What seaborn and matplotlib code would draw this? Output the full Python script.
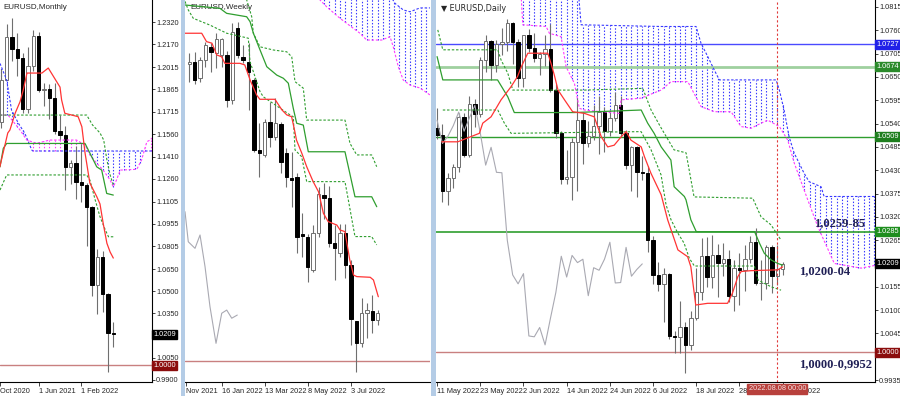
import numpy as np
import pandas as pd
import matplotlib
matplotlib.use("Agg")
import matplotlib.pyplot as plt
import seaborn as sns
from matplotlib.patches import Rectangle

# ---------------- monthly EURUSD, Oct 2020 .. Aug 2022 ----------------
m_open = [1.1720, 1.1646, 1.1926, 1.2216, 1.2136, 1.2074, 1.1729, 1.2020, 1.2227, 1.1858, 1.1869, 1.1809,
          1.1580, 1.1558, 1.1338, 1.1370, 1.1235, 1.1218, 1.1067, 1.0545, 1.0733, 1.0483, 1.0220]
m_high = [1.1881, 1.2003, 1.2310, 1.2349, 1.2243, 1.2113, 1.2150, 1.2266, 1.2254, 1.1909, 1.1900, 1.1909,
          1.1692, 1.1616, 1.1386, 1.1482, 1.1495, 1.1233, 1.1076, 1.0787, 1.0774, 1.0486, 1.0294]
m_low = [1.1603, 1.1603, 1.1925, 1.2054, 1.1952, 1.1704, 1.1704, 1.1986, 1.1847, 1.1752, 1.1664, 1.1563,
         1.1524, 1.1186, 1.1222, 1.1121, 1.1106, 1.0806, 1.0470, 1.0349, 1.0359, 0.9952, 1.0123]
m_close = [1.1646, 1.1926, 1.2216, 1.2136, 1.2074, 1.1729, 1.2020, 1.2227, 1.1858, 1.1869, 1.1809, 1.1580,
           1.1558, 1.1338, 1.1370, 1.1235, 1.1218, 1.1067, 1.0545, 1.0733, 1.0483, 1.0220, 1.0209]

m_tenkan_x = [0.7, 2.2, 2.6, 3.6, 4.5, 5.1, 5.8, 8.6, 9.8, 12.0, 12.3, 12.9, 15.4, 16.1, 16.7, 17.6,
              18.9, 19.5, 20.1, 20.8, 21.4, 22.0]
m_tenkan = [1.1340, 1.1570, 1.1590, 1.1705, 1.1781, 1.1860, 1.1975, 1.1975, 1.2009, 1.1880, 1.1793, 1.1703,
            1.1680, 1.1612, 1.1434, 1.1231, 1.1139, 1.1090, 1.0959, 1.0824, 1.0765, 1.0724]
m_kijun_x = [0.74, 1.36, 1.99, 16.69, 17.95, 18.89, 19.82, 20.76, 22.0]
m_kijun = [1.1341, 1.1466, 1.1499, 1.1499, 1.1409, 1.1341, 1.1319, 1.1161, 1.1150]
m_dot_up_x = [0.74, 17.0, 18.1, 19.5, 20.2, 20.8, 21.4, 22.0]
m_dot_up = [1.1691, 1.1691, 1.1624, 1.1570, 1.1522, 1.1387, 1.1286, 1.1218]
m_dot_lo_x = [0.74, 1.99, 17.0, 17.6, 18.6, 19.5, 20.5, 21.1, 22.0]
m_dot_lo = [1.1184, 1.1286, 1.1286, 1.1252, 1.1117, 1.1004, 1.0914, 1.0868, 1.0868]
m_span_a_x = [0.74, 2.0, 2.9, 4.2, 5.4, 6.7, 6.9, 29.3]
m_span_a = [1.2040, 1.1928, 1.1725, 1.1635, 1.1567, 1.1455, 1.1448, 1.1448]
m_span_b_x = [0.74, 2.24, 4.5, 5.76, 7.6, 10.1, 15.1, 16.7, 17.6, 18.9, 20.1, 21.4, 22.0, 22.6, 23.3,
              26.4, 27.3, 28.3, 28.9, 29.3]
m_span_b = [1.1691, 1.1691, 1.1590, 1.1522, 1.1500, 1.1522, 1.1522, 1.1488, 1.1421, 1.1365, 1.1319, 1.1252,
            1.1206, 1.1252, 1.1319, 1.1324, 1.1387, 1.1511, 1.1522, 1.1536]
m_ticks = [0.8, 8, 16]
m_tick_labels = ["Oct 2020", "1 Jun 2021", "1 Feb 2022"]
m_price_ticks = [1.2320, 1.2170, 1.2015, 1.1865, 1.1715, 1.1560, 1.1410, 1.1260, 1.1105, 1.0955,
                 1.0805, 1.0650, 1.0500, 1.0350, 1.0050, 0.9900]

# ---------------- weekly EURUSD, 5 Dec 2021 .. 7 Aug 2022 ----------------
w_open = [1.1313, 1.1322, 1.1251, 1.1331, 1.1388, 1.1362, 1.1353, 1.1353, 1.1154, 1.1472, 1.1344, 1.1322,
          1.1242, 1.0933, 1.0911, 1.1057, 1.0990, 1.1048, 1.0920, 1.0809, 1.0813, 1.0560, 1.0548, 1.0402,
          1.0566, 1.0735, 1.0720, 1.0522, 1.0477, 1.0566, 1.0424, 1.0177, 1.0080, 1.0212, 1.0221, 1.0181]
w_high = [1.1362, 1.1366, 1.1345, 1.1410, 1.1406, 1.1450, 1.1430, 1.1369, 1.1494, 1.1500, 1.1397, 1.1406,
          1.1251, 1.1052, 1.1070, 1.1145, 1.1163, 1.1057, 1.0942, 1.0924, 1.0830, 1.0654, 1.0560, 1.0601,
          1.0770, 1.0787, 1.0774, 1.0601, 1.0605, 1.0606, 1.0446, 1.0177, 1.0279, 1.0256, 1.0292, 1.0225]
w_low = [1.1233, 1.1225, 1.1235, 1.1300, 1.1278, 1.1295, 1.1300, 1.1123, 1.1136, 1.1340, 1.1317, 1.1110,
         1.0924, 1.0813, 1.0900, 1.0946, 1.0977, 1.0831, 1.0769, 1.0681, 1.0477, 1.0460, 1.0349, 1.0393,
         1.0550, 1.0627, 1.0505, 1.0359, 1.0460, 1.0366, 1.0071, 0.9952, 1.0062, 1.0102, 1.0124, 1.0159]
w_close = [1.1322, 1.1242, 1.1331, 1.1397, 1.1366, 1.1424, 1.1424, 1.1154, 1.1454, 1.1353, 1.1331, 1.1278,
           1.0933, 1.0920, 1.1057, 1.0990, 1.1052, 1.0880, 1.0813, 1.0800, 1.0548, 1.0552, 1.0416, 1.0566,
           1.0738, 1.0720, 1.0522, 1.0500, 1.0566, 1.0424, 1.0186, 1.0080, 1.0212, 1.0225, 1.0181, 1.0212]

w_tenkan_x = [-0.8, 2.3, 3.2, 4.2, 5.1, 6.0, 6.6, 9.4, 10.3, 11.3, 12.5, 13.1, 15.9, 17.2, 18.1, 19.0, 19.6,
              19.9, 20.9, 21.8, 23.0, 24.0, 24.9, 25.8, 27.4, 28.0, 28.9, 29.8, 30.5, 31.1, 33.6, 34.2, 35.1]
w_tenkan = [1.1449, 1.1449, 1.1412, 1.1405, 1.1353, 1.1345, 1.1316, 1.1316, 1.1309, 1.1242, 1.1176, 1.1157,
            1.1157, 1.1110, 1.1088, 1.1080, 1.1014, 1.0977, 1.0918, 1.0859, 1.0793, 1.0748, 1.0653, 1.0616,
            1.0601, 1.0579, 1.0572, 1.0447, 1.0380, 1.0373, 1.0370, 1.0358, 1.0284]
w_kijun_x = [-0.8, 5.7, 6.94, 10.65, 11.29, 11.9, 13.14, 14.39, 16.24, 17.46, 18.39, 19.31, 19.94, 21.17,
             22.1, 28.91, 29.53, 30.77, 33.88, 34.81]
w_kijun = [1.1574, 1.1559, 1.1537, 1.1522, 1.1500, 1.1449, 1.1375, 1.1301, 1.1264, 1.1250, 1.1228, 1.1117,
           1.1051, 1.1043, 1.0925, 1.0925, 1.0859, 1.0726, 1.0726, 1.0682]
w_dot_a_x = [-0.8, -0.19, 0.74, 3.84, 6.95, 9.73, 10.96, 11.27, 12.2, 13.13, 13.74, 18.7, 19.31, 19.63,
             20.87, 21.8, 28.91, 29.53, 30.77, 33.87, 34.8]
w_dot_a = [1.1590, 1.1552, 1.1515, 1.1485, 1.1449, 1.1434, 1.1427, 1.1323, 1.1257, 1.1191, 1.1168, 1.1088,
           1.1080, 1.0933, 1.0903, 1.0793, 1.0793, 1.0712, 1.0550, 1.0550, 1.0513]
w_dot_b_x = [10.3, 10.66, 11.59, 11.89, 13.13, 15.6, 18.09, 19.02, 19.63, 21.17, 21.8, 28.91, 29.84, 31.09,
             33.87, 34.8]
w_dot_b = [1.1650, 1.1596, 1.1522, 1.1449, 1.1389, 1.1375, 1.1367, 1.1345, 1.1235, 1.1206, 1.1065, 1.1065,
           1.0962, 1.0911, 1.0911, 1.0859]
w_chikou_x = [-0.8, -0.19, 1.06, 1.99, 2.92, 3.84, 4.96, 6.02, 6.95, 7.88, 8.91]
w_chikou = [1.0660, 1.0527, 1.0498, 1.0557, 1.0417, 1.0240, 1.0078, 1.0211, 1.0225, 1.0189, 1.0203]
w_span_a_x = [24.0, 37.27, 38.2, 39.74, 40.98, 42.84, 44.7]
w_span_a = [1.1700, 1.1618, 1.1581, 1.1552, 1.1544, 1.1561, 1.1561]
w_span_b_x = [24.0, 24.27, 25.51, 27.99, 30.45, 31.7, 32.94, 35.73, 37.27, 37.88, 38.81, 39.74, 40.98,
              42.84, 44.7]
w_span_b = [1.1640, 1.1596, 1.1566, 1.1515, 1.1471, 1.1449, 1.1419, 1.1419, 1.1434, 1.1389, 1.1301, 1.1242,
            1.1220, 1.1207, 1.1176]
w_ticks = [-0.7, 6, 14, 22, 30]
w_tick_labels = ["Nov 2021", "16 Jan 2022", "13 Mar 2022", "8 May 2022", "3 Jul 2022"]

# ---------------- daily EURUSD, 11 May 2022 .. 9 Aug 2022 ----------------
d_open = [1.0530, 1.0513, 1.0380, 1.0411, 1.0437, 1.0555, 1.0465, 1.0586, 1.0563, 1.0691, 1.0735, 1.0678,
          1.0727, 1.0733, 1.0777, 1.0733, 1.0648, 1.0749, 1.0719, 1.0695, 1.0704, 1.0717, 1.0619, 1.0518,
          1.0409, 1.0415, 1.0497, 1.0548, 1.0493, 1.0510, 1.0535, 1.0567, 1.0522, 1.0554, 1.0583, 1.0518,
          1.0442, 1.0484, 1.0425, 1.0424, 1.0265, 1.0183, 1.0162, 1.0186, 1.0039, 1.0037, 1.0059, 1.0018,
          1.0081, 1.0142, 1.0227, 1.0178, 1.0229, 1.0212, 1.0220, 1.0134, 1.0200, 1.0194, 1.0220, 1.0260,
          1.0164, 1.0165, 1.0248, 1.0180, 1.0196]
d_high = [1.0577, 1.0540, 1.0424, 1.0444, 1.0564, 1.0566, 1.0606, 1.0598, 1.0698, 1.0748, 1.0737, 1.0738,
          1.0765, 1.0787, 1.0780, 1.0740, 1.0750, 1.0764, 1.0753, 1.0710, 1.0749, 1.0774, 1.0633, 1.0522,
          1.0478, 1.0506, 1.0601, 1.0567, 1.0545, 1.0583, 1.0606, 1.0579, 1.0572, 1.0615, 1.0606, 1.0526,
          1.0488, 1.0486, 1.0463, 1.0440, 1.0275, 1.0213, 1.0200, 1.0188, 1.0050, 1.0122, 1.0071, 1.0097,
          1.0200, 1.0269, 1.0273, 1.0278, 1.0257, 1.0258, 1.0242, 1.0219, 1.0234, 1.0254, 1.0274, 1.0294,
          1.0218, 1.0254, 1.0254, 1.0253, 1.0214]
d_low = [1.0504, 1.0355, 1.0349, 1.0389, 1.0425, 1.0460, 1.0462, 1.0532, 1.0555, 1.0662, 1.0642, 1.0662,
         1.0701, 1.0712, 1.0680, 1.0627, 1.0627, 1.0710, 1.0685, 1.0654, 1.0676, 1.0614, 1.0506, 1.0397,
         1.0397, 1.0359, 1.0381, 1.0444, 1.0485, 1.0502, 1.0469, 1.0474, 1.0510, 1.0547, 1.0508, 1.0432,
         1.0382, 1.0366, 1.0406, 1.0236, 1.0162, 1.0144, 1.0072, 1.0033, 0.9998, 0.9998, 0.9952, 1.0006,
         1.0077, 1.0123, 1.0154, 1.0152, 1.0130, 1.0181, 1.0120, 1.0097, 1.0112, 1.0145, 1.0210, 1.0160,
         1.0123, 1.0150, 1.0140, 1.0159, 1.0182]
d_close = [1.0513, 1.0380, 1.0411, 1.0437, 1.0555, 1.0465, 1.0586, 1.0563, 1.0691, 1.0735, 1.0678, 1.0727,
           1.0733, 1.0777, 1.0733, 1.0648, 1.0749, 1.0719, 1.0695, 1.0704, 1.0717, 1.0619, 1.0518, 1.0409,
           1.0415, 1.0497, 1.0548, 1.0493, 1.0510, 1.0535, 1.0567, 1.0522, 1.0554, 1.0583, 1.0518, 1.0442,
           1.0484, 1.0425, 1.0424, 1.0265, 1.0183, 1.0162, 1.0186, 1.0039, 1.0037, 1.0059, 1.0018, 1.0081,
           1.0142, 1.0227, 1.0178, 1.0229, 1.0212, 1.0220, 1.0134, 1.0200, 1.0194, 1.0220, 1.0260, 1.0164,
           1.0165, 1.0248, 1.0180, 1.0196, 1.0209]

d_tenkan_x = [0.87, 3.83, 7.83, 8.46, 10.0, 11.85, 13.7, 14.9, 15.6, 16.8, 20.5, 21.1, 21.7, 22.4, 23.6,
              25.1, 27.3, 29.1, 30.4, 31.6, 32.8, 34.1, 35.0, 35.9, 37.8, 38.4, 39.6, 41.5, 42.7, 44.6,
              46.4, 47.0, 47.9, 50.1, 53.8, 54.7, 55.7, 56.3, 58.1, 63.1, 64.0]
d_tenkan = [1.0497, 1.0497, 1.0517, 1.0541, 1.0556, 1.0596, 1.0627, 1.0651, 1.0674, 1.0706, 1.0706, 1.0682,
            1.0655, 1.0619, 1.0596, 1.0568, 1.0564, 1.0556, 1.0509, 1.0485, 1.0489, 1.0509, 1.0521, 1.0501,
            1.0485, 1.0462, 1.0423, 1.0372, 1.0313, 1.0242, 1.0226, 1.0202, 1.0112, 1.0116, 1.0116, 1.0140,
            1.0179, 1.0191, 1.0193, 1.0195, 1.0202]
d_kijun_x = [0, 1.06, 11.2, 13.1, 14.3, 25.4, 37.8, 39.0, 40.2, 41.5, 43.3, 43.9, 45.8, 46.1, 47.0, 48.0,
             58.8, 59.7, 60.6, 61.9, 63.1, 64.0]
d_kijun = [1.0698, 1.0643, 1.0643, 1.0603, 1.0566, 1.0566, 1.0572, 1.0541, 1.0517, 1.0485, 1.0454, 1.0391,
           1.0368, 1.0360, 1.0313, 1.0285, 1.0285, 1.0258, 1.0234, 1.0218, 1.0210, 1.0206]
d_dot_a_x = [0.13, 1.06, 11.24, 11.85, 13.09, 14.02, 27.28, 38.09, 39.63, 41.48, 43.89, 46.11, 47.59, 58.46,
             60.0, 61.85, 63.7]
d_dot_a = [1.0761, 1.0714, 1.0714, 1.0690, 1.0659, 1.0619, 1.0619, 1.0623, 1.0572, 1.0530, 1.0478, 1.0471,
           1.0367, 1.0364, 1.0320, 1.0301, 1.0265]
d_dot_b_x = [1.06, 11.24, 12.46, 13.7, 37.78, 39.63, 41.48, 42.41, 43.33, 44.57, 45.74, 46.72, 47.65,
             58.76, 59.44, 61.85, 63.7]
d_dot_b = [1.0572, 1.0572, 1.0541, 1.0517, 1.0521, 1.0478, 1.0419, 1.0348, 1.0313, 1.0282, 1.0258, 1.0222,
           1.0204, 1.0204, 1.0171, 1.0155, 1.0147]
d_chikou = [1.0548, 1.0493, 1.0510, 1.0535, 1.0567, 1.0522, 1.0554, 1.0583, 1.0518, 1.0442, 1.0484, 1.0425,
            1.0424, 1.0265, 1.0183, 1.0162, 1.0186, 1.0039, 1.0037, 1.0059, 1.0018, 1.0081, 1.0142, 1.0227,
            1.0178, 1.0229, 1.0212, 1.0220, 1.0134, 1.0200, 1.0194, 1.0220, 1.0260, 1.0164, 1.0165, 1.0248,
            1.0180, 1.0196, 1.0209]
d_span_a_x = [15.56, 26.11, 26.67, 41.48, 47.96, 48.89, 50.13, 51.35, 52.28, 62.78, 63.39, 64.26, 65.19,
              66.11, 67.96, 68.89, 71.11, 71.67, 81.3]
d_span_a = [1.0860, 1.0860, 1.0773, 1.0769, 1.0769, 1.0729, 1.0698, 1.0666, 1.0643, 1.0643, 1.0619, 1.0572,
            1.0509, 1.0471, 1.0423, 1.0403, 1.0391, 1.0368, 1.0368]
d_span_b_x = [15.56, 15.87, 20.19, 20.8, 22.96, 23.89, 25.43, 26.35, 27.28, 33.7, 34.07, 37.78, 41.48,
              43.33, 46.43, 48.89, 51.35, 54.44, 56.3, 58.15, 60.0, 61.24, 63.39, 64.94, 66.17, 68.65, 70.5,
              73.57, 78.52, 81.3]
d_span_b = [1.0843, 1.0773, 1.0769, 1.0753, 1.0745, 1.0674, 1.0635, 1.0576, 1.0572, 1.0564, 1.0596, 1.0600,
            1.0619, 1.0639, 1.0639, 1.0580, 1.0568, 1.0568, 1.0533, 1.0529, 1.0541, 1.0548, 1.0533, 1.0501,
            1.0446, 1.0360, 1.0297, 1.0210, 1.0199, 1.0206]
d_levels = [1.0727, 1.0674, 1.0509, 1.0285]
d_level_colors = ["#4a4aff", "#9fd09f", "#2f9e2f", "#2f9e2f"]
d_level_tags = ["#2020e8", "#2a8a2a", "#1e7e1e", "#1e8e1e"]
d_ticks = [0, 8, 16, 24, 32, 40, 48, 56, 64]
d_tick_labels = ["11 May 2022", "23 May 2022", "2 Jun 2022", "14 Jun 2022", "24 Jun 2022",
                 "6 Jul 2022", "18 Jul 2022", "28 Jul 2022", "9 Aug 2022"]
d_price_ticks = [1.0815, 1.0760, 1.0705, 1.0650, 1.0595, 1.0540, 1.0485, 1.0430, 1.0375, 1.0320,
                 1.0265, 1.0155, 1.0100, 1.0045, 0.9935]
d_cursor = 63
zones = ["1,0259-85", "1,0200-04", "1,0000-0,9952"]
zone_prices = [1.0305, 1.0193, 0.9973]
zone_x = [69.8, 67.0, 67.0]

last_price = 1.0209

RED = "#ff3434"
GREEN = "#2f9e2f"
BLUE = "#3838ff"
PINK = "#ff3cff"
GRAY = "#a9a9b2"
WICK = "#6f6f6f"
LEVEL_1 = "#c98080"
NAVY = "#1f1f55"
DOT = (0, (2.2, 1.6))
FS = 5.3

sns.set_style("white")
plt.rcParams["font.family"] = ["Liberation Sans Narrow", "Liberation Sans", "DejaVu Sans"]
plt.rcParams["axes.linewidth"] = 0.8

fig = plt.figure(figsize=(9.0, 3.96), dpi=100)
W, H = 900.0, 396.0


def frame(x0, x1, y0=0.0, y1=382.0):
    return [x0 / W, 1 - y1 / H, (x1 - x0) / W, (y1 - y0) / H]


def candles(ax, o, h, l, c, x0=0, width=0.6):
    df = pd.DataFrame({"o": o, "h": h, "l": l, "c": c})
    df["x"] = np.arange(len(df)) + x0
    up = df[df.c >= df.o]
    dn = df[df.c < df.o]
    ax.vlines(df.x, df.l, df.h, colors=WICK, lw=0.8, zorder=4)
    ax.bar(up.x, (up.c - up.o).clip(lower=0.00004), bottom=up.o, width=width,
           color="white", edgecolor=WICK, lw=0.7, zorder=5)
    ax.bar(dn.x, dn.o - dn.c, bottom=dn.c, width=width,
           color="black", edgecolor="black", lw=0.7, zorder=5)


def line(ax, x, y, color, ls="-", lw=0.9):
    sns.lineplot(x=x, y=y, ax=ax, color=color, linestyle=ls, lw=lw,
                 estimator=None, sort=False, zorder=6)


def cloud(ax, ax_x, ay, bx, by, lo, hi):
    idx = np.arange(lo, hi + 1)
    a = np.interp(idx, ax_x, ay)
    b = np.interp(idx, bx, by)
    up = a >= b
    ax.vlines(idx[up], b[up], a[up], colors=BLUE, linestyles=(0, (1.3, 1.6)), lw=0.8, zorder=2)
    ax.vlines(idx[~up], a[~up], b[~up], colors=PINK, linestyles=(0, (1.3, 1.6)), lw=0.8, zorder=2)
    line(ax, ax_x, ay, BLUE, DOT, 0.8)
    line(ax, bx, by, PINK, DOT, 0.8)


def tag(ax, y, text, fc):
    ax.annotate(text, xy=(1, y), xycoords=("axes fraction", "data"), xytext=(0.9, 0),
                textcoords="offset points", ha="left", va="center", fontsize=FS, color="white",
                bbox=dict(boxstyle="square,pad=0.15", fc=fc, ec=fc), annotation_clip=False, zorder=10)


def style(ax, xlim, ylim, xticks, xlabels, yticks=None):
    ax.set_xlim(xlim)
    ax.set_ylim(ylim)
    ax.set_xlabel("")
    ax.set_ylabel("")
    ax.spines["left"].set_visible(False)
    ax.spines["top"].set_visible(False)
    ax.spines["bottom"].set_color("black")
    ax.set_xticks(xticks, xlabels)
    for lab in ax.get_xticklabels():
        lab.set_horizontalalignment("left")
    ax.tick_params(axis="x", bottom=True, direction="out", length=3, width=0.6, labelsize=FS, pad=1.5)
    if yticks is None:
        ax.set_yticks([])
        ax.spines["right"].set_visible(False)
    else:
        ax.spines["right"].set_color("black")
        ax.set_yticks(yticks, [f"{t:.4f}" for t in yticks])
        ax.tick_params(axis="y", left=False, labelleft=False, right=True, labelright=True,
                       direction="out", length=2, width=0.6, labelsize=FS, pad=1.0)


# ---------------- monthly ----------------
ax1 = fig.add_axes(frame(0, 152))
cloud(ax1, m_span_a_x, m_span_a, m_span_b_x, m_span_b, 1, 29)
candles(ax1, m_open, m_high, m_low, m_close, width=0.62)
line(ax1, m_dot_up_x, m_dot_up, GREEN, DOT, 0.8)
line(ax1, m_dot_lo_x, m_dot_lo, GREEN, DOT, 0.8)
line(ax1, m_kijun_x, m_kijun, GREEN)
line(ax1, m_tenkan_x, m_tenkan, RED)
ax1.axhline(1.0, color=LEVEL_1, lw=1.0, zorder=3)
style(ax1, (0.74, 29.26), (0.9886, 1.2469), m_ticks, m_tick_labels, m_price_ticks)
tag(ax1, last_price, "1.0209", "black")
tag(ax1, 1.0, "1.0000", "#8b0d0d")
ax1.text(0.02, 0.99, "EURUSD,Monthly", transform=ax1.transAxes, va="top", ha="left", fontsize=5.8)

# ---------------- weekly ----------------
ax2 = fig.add_axes(frame(185, 430))
cloud(ax2, w_span_a_x, w_span_a, w_span_b_x, w_span_b, 24, 45)
candles(ax2, w_open, w_high, w_low, w_close, width=0.62)
line(ax2, w_chikou_x, w_chikou, GRAY, "-", 0.8)
line(ax2, w_dot_a_x, w_dot_a, GREEN, DOT, 0.8)
line(ax2, w_dot_b_x, w_dot_b, GREEN, DOT, 0.8)
line(ax2, w_kijun_x, w_kijun, GREEN)
line(ax2, w_tenkan_x, w_tenkan, RED)
ax2.axhline(1.0, color=LEVEL_1, lw=1.0, zorder=3)
style(ax2, (-0.8, 44.7), (0.9907, 1.1596), w_ticks, w_tick_labels)
ax2.text(0.02, 0.99, "EURUSD,Weekly", transform=ax2.transAxes, va="top", ha="left", fontsize=5.8)

# ---------------- daily ----------------
ax3 = fig.add_axes(frame(436, 875))
cloud(ax3, d_span_a_x, d_span_a, d_span_b_x, d_span_b, 16, 81)
for lvl, col, lw in zip(d_levels, d_level_colors, [1.0, 2.0, 1.0, 1.2]):
    ax3.axhline(lvl, color=col, lw=lw, zorder=3)
ax3.axhline(1.0, color=LEVEL_1, lw=1.0, zorder=3)
candles(ax3, d_open, d_high, d_low, d_close, width=0.62)
line(ax3, list(range(len(d_chikou))), d_chikou, GRAY, "-", 0.8)
line(ax3, d_dot_a_x, d_dot_a, GREEN, DOT, 0.8)
line(ax3, d_dot_b_x, d_dot_b, GREEN, DOT, 0.8)
line(ax3, d_kijun_x, d_kijun, GREEN)
line(ax3, d_tenkan_x, d_tenkan, RED)
ax3.axvline(d_cursor, color="#e03a3a", ls=(0, (2, 2)), lw=0.8, zorder=7)
style(ax3, (-0.2, 81.1), (0.99304, 1.08315), d_ticks, d_tick_labels, d_price_ticks)
for lvl, fc in zip(d_levels, d_level_tags):
    tag(ax3, lvl, f"{lvl:.4f}", fc)
tag(ax3, last_price, "1.0209", "black")
tag(ax3, 1.0, "1.0000", "#8b0d0d")
ax3.annotate("2022.08.08 00:00", xy=(d_cursor, 0), xycoords=("data", "axes fraction"), xytext=(0, -2.2),
             textcoords="offset points", ha="center", va="top", fontsize=FS, color="#f4dede",
             bbox=dict(boxstyle="square,pad=0.2", fc="#b8403c", ec="#b8403c"),
             annotation_clip=False, zorder=10)
ax3.text(0.012, 0.99, "\u25BC EURUSD,Daily", transform=ax3.transAxes, va="top", ha="left", fontsize=5.8,
         family=["Liberation Sans Narrow", "DejaVu Sans"])
for txt, y, x in zip(zones, zone_prices, zone_x):
    ax3.text(x, y, txt, fontsize=9, fontweight="bold", color=NAVY, family="Liberation Serif",
             va="center", ha="left", zorder=9)

# panel separators
for x0, x1 in [(180.5, 184.5), (430.5, 435.5)]:
    fig.patches.append(Rectangle((x0 / W, 0), (x1 - x0) / W, 1, transform=fig.transFigure,
                                 fc="#b4cce6", ec="none", zorder=0))

fig.savefig("out.png", dpi=100)
